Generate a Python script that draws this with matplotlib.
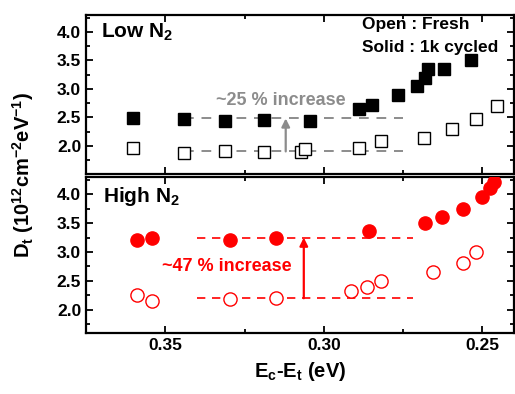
import matplotlib
matplotlib.use("Agg")
import matplotlib.pyplot as plt
from matplotlib.ticker import MultipleLocator

plt.rcParams['font.family'] = ['Liberation Sans', 'DejaVu Sans']
plt.rcParams['font.weight'] = 'bold'
plt.rcParams['mathtext.fontset'] = 'custom'
plt.rcParams['mathtext.rm'] = 'Liberation Sans:bold'
plt.rcParams['mathtext.it'] = 'Liberation Sans:bold'
plt.rcParams['mathtext.bf'] = 'Liberation Sans:bold'

# Low N2 panel
low_cyc_x = [0.3601, 0.3440, 0.3313, 0.3190, 0.3044, 0.2889, 0.2848, 0.2766,
             0.2706, 0.2680, 0.2671, 0.2620, 0.2535]
low_cyc_y = [2.49, 2.47, 2.44, 2.46, 2.44, 2.65, 2.72, 2.89, 3.05, 3.19, 3.35, 3.35, 3.51]
low_fresh_x = [0.3601, 0.3440, 0.3313, 0.3190, 0.3073, 0.3060, 0.2889, 0.2820,
               0.2684, 0.2595, 0.2519, 0.2453]
low_fresh_y = [1.96, 1.88, 1.91, 1.89, 1.89, 1.95, 1.96, 2.09, 2.14, 2.30, 2.47, 2.70]

# High N2 panel
high_cyc_x = [0.3589, 0.3541, 0.3297, 0.3152, 0.2858, 0.2680, 0.2627, 0.2560,
              0.2500, 0.2475, 0.2462]
high_cyc_y = [3.21, 3.25, 3.21, 3.25, 3.37, 3.51, 3.60, 3.75, 3.95, 4.11, 4.21]
high_fresh_x = [0.3589, 0.3541, 0.3297, 0.3152, 0.2915, 0.2864, 0.2820, 0.2655,
                0.2560, 0.2519]
high_fresh_y = [2.25, 2.16, 2.19, 2.21, 2.33, 2.40, 2.49, 2.65, 2.81, 3.00]

# reference guides (start, end, low level, high level, arrow x)
low_guide = (0.344, 0.275, 1.90, 2.48, 0.312)
high_guide = (0.340, 0.272, 2.20, 3.25, 0.3063)

fig = plt.figure(figsize=(5.15, 3.94), dpi=100)
ax1 = fig.add_axes([0.167, 0.558, 0.831, 0.404])
ax2 = fig.add_axes([0.167, 0.155, 0.831, 0.396])

for ax in (ax1, ax2):
    ax.set_xlim(0.375, 0.24)
    ax.xaxis.set_major_locator(MultipleLocator(0.05))
    ax.xaxis.set_minor_locator(MultipleLocator(0.025))
    ax.set_yticks([2.0, 2.5, 3.0, 3.5, 4.0])
    ax.yaxis.set_minor_locator(MultipleLocator(0.25))
    ax.yaxis.set_major_formatter(plt.FormatStrFormatter('%.1f'))
    ax.tick_params(which='both', direction='in', top=True, right=True,
                   labelsize=12.5, width=1.3)
    ax.tick_params(which='major', length=5)
    ax.tick_params(which='minor', length=3)
    for s in ax.spines.values():
        s.set_linewidth(1.6)

ax1.set_ylim(1.5, 4.3)
ax2.set_ylim(1.6, 4.3)
ax1.tick_params(labelbottom=False)
ax2.xaxis.set_major_formatter(plt.FormatStrFormatter('%.2f'))

# top panel
gray = '#8c8c8c'
x0, x1, ylo, yhi, xa = low_guide
ax1.plot([x0, x1], [yhi, yhi], ls=(0, (5, 4)), color=gray, lw=1.4, zorder=1)
ax1.plot([x0, x1], [ylo, ylo], ls=(0, (5, 4)), color=gray, lw=1.4, zorder=1)
ax1.annotate('', xy=(xa, yhi), xytext=(xa, ylo),
             arrowprops=dict(arrowstyle='-|>', color=gray, lw=1.6, mutation_scale=12,
                             shrinkA=0, shrinkB=0))
ax1.text(0.3135, 2.79, '~25 % increase', color=gray, fontsize=13, fontweight='bold',
         ha='center', va='center')
ax1.plot(low_cyc_x, low_cyc_y, 's', color='black', ms=8.5, zorder=3)
ax1.plot(low_fresh_x, low_fresh_y, 's', mfc='white', mec='black', mew=1.0, ms=8.5, zorder=3)
ax1.text(0.035, 0.96, 'Low N$_2$', transform=ax1.transAxes, fontsize=15,
         fontweight='bold', va='top')
ax1.text(0.646, 0.985, 'Open : Fresh', transform=ax1.transAxes, fontsize=12.5,
         fontweight='bold', va='top')
ax1.text(0.646, 0.84, 'Solid : 1k cycled', transform=ax1.transAxes, fontsize=12.5,
         fontweight='bold', va='top')

# bottom panel
red = '#ff0000'
x0, x1, ylo, yhi, xa = high_guide
ax2.plot([x0, x1], [yhi, yhi], ls=(0, (5, 4)), color=red, lw=1.2, zorder=1)
ax2.plot([x0, x1], [ylo, ylo], ls=(0, (5, 4)), color=red, lw=1.2, zorder=1)
ax2.annotate('', xy=(xa, yhi), xytext=(xa, ylo),
             arrowprops=dict(arrowstyle='-|>', color=red, lw=1.6, mutation_scale=12,
                             shrinkA=0, shrinkB=0))
ax2.text(0.3305, 2.75, '~47 % increase', color=red, fontsize=13, fontweight='bold',
         ha='center', va='center')
ax2.plot(high_cyc_x, high_cyc_y, 'o', color=red, ms=9.5, zorder=3)
ax2.plot(high_fresh_x, high_fresh_y, 'o', mfc='white', mec=red, mew=1.0, ms=9.5, zorder=3)
ax2.text(0.04, 0.95, 'High N$_2$', transform=ax2.transAxes, fontsize=15,
         fontweight='bold', va='top')

ax2.set_xlabel('E$_c$-E$_t$ (eV)', fontsize=14.5, fontweight='bold', labelpad=5)
fig.text(0.045, 0.555, 'D$_t$ (10$^{12}$cm$^{-2}$eV$^{-1}$)', rotation=90,
         fontsize=14.5, fontweight='bold', ha='center', va='center')

fig.savefig('out.png', dpi=100)
